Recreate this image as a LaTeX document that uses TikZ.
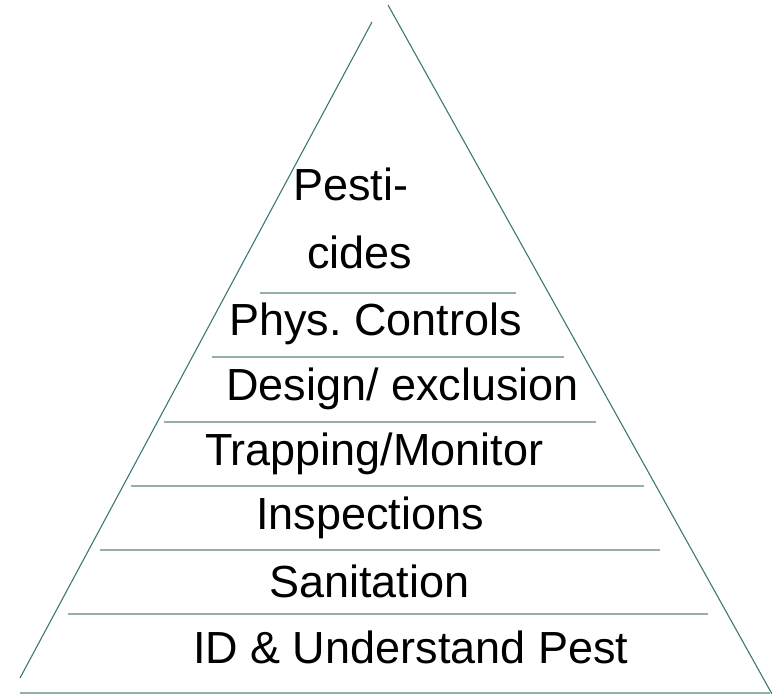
\documentclass[tikz,border=0pt]{standalone}
\usepackage{fontspec}
\setmainfont{Liberation Sans}
\frenchspacing
\definecolor{sidecol}{RGB}{60,120,120}
\definecolor{tiercol}{RGB}{150,175,172}
\begin{document}
\begin{tikzpicture}[x=1pt,y=-1pt,
  side/.style={draw=sidecol,line width=1.1pt},
  tier/.style={draw=tiercol,line width=2pt},
  label/.style={anchor=base west,inner sep=0pt,outer sep=0pt,font=\fontsize{45}{54}\selectfont}]
\useasboundingbox (0,0) rectangle (772,694);
% triangle sides
\coordinate (ltop) at (372,22);
\coordinate (lbot) at (20,678);
\coordinate (rtop) at (388,5);
\coordinate (rbot) at (772,694);
\draw[side] (ltop) -- (lbot);
\draw[side] (rtop) -- (rbot);
% tier lines
\coordinate (a1) at (260,293); \coordinate (b1) at (516,293);
\coordinate (a2) at (212,357); \coordinate (b2) at (564,357);
\coordinate (a3) at (164,422); \coordinate (b3) at (596,422);
\coordinate (a4) at (131,486); \coordinate (b4) at (644,486);
\coordinate (a5) at (100,550); \coordinate (b5) at (660,550);
\coordinate (a6) at (68,614);  \coordinate (b6) at (708,614);
\coordinate (a7) at (20,693);  \coordinate (b7) at (770,693);
\foreach \i in {1,...,7} {\draw[tier] (a\i) -- (b\i);}
% labels
\node[label] (pest1) at (293,200) {Pesti-};
\node[label] (pest2) at (307,268) {cides};
\node[label] (phys) at (229,335) {Phys. Controls};
\node[label] (design) at (226,400) {Design/ exclusion};
\node[label] (trap) at (205,465) {Trapping/Monitor};
\node[label] (insp) at (256,529) {Inspections};
\node[label] (sani) at (269,597) {Sanitation};
\node[label] (id) at (193,663) {ID \& Understand Pest};
\end{tikzpicture}
\end{document}
